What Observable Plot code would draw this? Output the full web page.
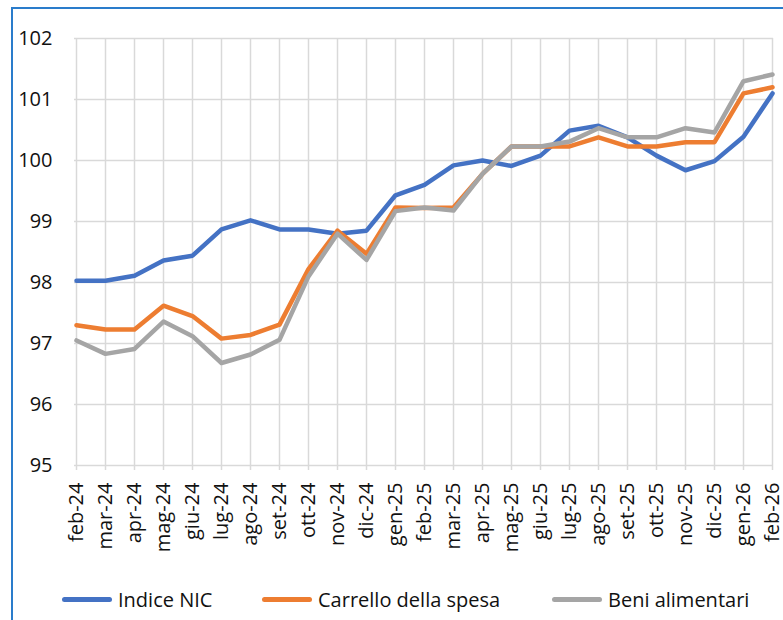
<!DOCTYPE html>
<html>
<head>
<meta charset="utf-8">
<script src="https://cdn.jsdelivr.net/npm/d3@7"></script>
<script src="https://cdn.jsdelivr.net/npm/@observablehq/plot@0.6"></script>
<style>
  html, body { margin: 0; padding: 0; background: #fff; }
  body { width: 783px; height: 620px; overflow: hidden; position: relative; font-family: "Open Sans", sans-serif; }
  #frame { position: absolute; left: 11px; top: 7px; width: 900px; height: 800px; border-left: 2px solid #2A7CCB; border-top: 2px solid #2A7CCB; }
  #chart { position: absolute; left: 0; top: 0; }
  #legend { position: absolute; left: 0; top: 586px; width: 783px; font-size: 20px; color: #111; }
  .item { position: absolute; display: flex; align-items: center; white-space: nowrap; }
  .sw { width: 50px; height: 5px; border-radius: 3px; margin-right: 6px; }
</style>
</head>
<body>
<div id="frame"></div>
<div id="chart"></div>
<div id="legend"></div>
<script>
const months = ["feb-24","mar-24","apr-24","mag-24","giu-24","lug-24","ago-24","set-24","ott-24","nov-24","dic-24","gen-25","feb-25","mar-25","apr-25","mag-25","giu-25","lug-25","ago-25","set-25","ott-25","nov-25","dic-25","gen-26","feb-26"];
const seriesNames = ["Indice NIC","Carrello della spesa","Beni alimentari"];
const seriesColors = ["#4472C4","#ED7D31","#A5A5A5"];
const indiceNIC = [98.03,98.03,98.11,98.36,98.44,98.87,99.02,98.87,98.87,98.80,98.85,99.43,99.60,99.92,100.00,99.91,100.08,100.49,100.57,100.38,100.08,99.84,99.99,100.39,101.10];
const carrello = [97.30,97.23,97.23,97.62,97.45,97.08,97.14,97.31,98.22,98.85,98.47,99.23,99.22,99.23,99.78,100.23,100.23,100.23,100.38,100.23,100.23,100.30,100.30,101.10,101.20];
const beni = [97.05,96.83,96.91,97.36,97.12,96.68,96.82,97.06,98.10,98.80,98.37,99.17,99.23,99.18,99.78,100.23,100.23,100.31,100.53,100.38,100.38,100.53,100.46,101.30,101.41];
const yTicks = [95,96,97,98,99,100,101,102];

const seriesValues = [indiceNIC, carrello, beni];
const data = [];
seriesNames.forEach((s, i) => months.forEach((m, j) => data.push({series: s, month: m, value: seriesValues[i][j]})));

const chart = Plot.plot({
  width: 783,
  height: 575,
  marginTop: 38,
  marginBottom: 110,
  marginLeft: 74,
  marginRight: 10,
  style: {fontFamily: "'Open Sans', sans-serif", fontSize: "20px", color: "#111", background: "transparent"},
  x: {type: "point", domain: months, padding: 0, label: null},
  y: {domain: [95, 102], label: null},
  color: {domain: seriesNames, range: seriesColors},
  marks: [
    Plot.gridX(months, {stroke: "#d9d9d9", strokeOpacity: 1, strokeWidth: 1.5}),
    Plot.gridY(yTicks, {stroke: "#d9d9d9", strokeOpacity: 1, strokeWidth: 1.5}),
    Plot.axisX(months, {tickRotate: -90, tickSize: 5, tickPadding: 12, stroke: "#d9d9d9", strokeWidth: 1.5, fontSize: 20}),
    Plot.axisY(yTicks, {tickSize: 0, tickPadding: 22, fontSize: 20, tickFormat: d => String(d)}),
    Plot.lineY(data, {x: "month", y: "value", z: "series", stroke: "series", strokeWidth: 4.5, strokeLinejoin: "round"})
  ]
});
document.getElementById("chart").appendChild(chart);

const legend = document.getElementById("legend");
const lefts = [62, 262, 552];
seriesNames.forEach((s, i) => {
  const it = document.createElement("div");
  it.className = "item";
  it.style.left = lefts[i] + "px";
  const sw = document.createElement("span");
  sw.className = "sw";
  sw.style.background = seriesColors[i];
  const t = document.createElement("span");
  t.textContent = s;
  it.appendChild(sw); it.appendChild(t);
  legend.appendChild(it);
});
</script>
</body>
</html>
